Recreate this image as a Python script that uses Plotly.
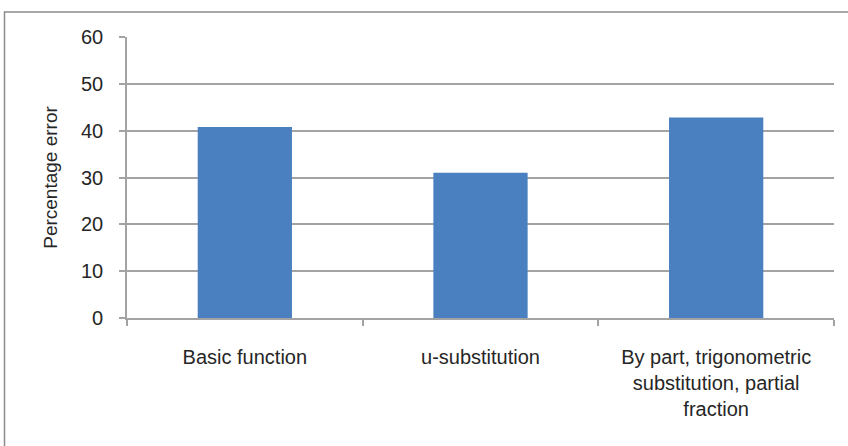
import plotly.graph_objects as go

# Percentage error by integration technique
categories = [
    "Basic function",
    "u-substitution",
    "By part, trigonometric<br>substitution, partial<br>fraction",
]
percentage_error = [40.8, 31.0, 42.8]
y_ticks = [0, 10, 20, 30, 40, 50, 60]

W, H = 848, 446
ML, MR, MT, MB = 127, 14, 37, 128

fig = go.Figure(
    go.Bar(
        x=categories,
        y=percentage_error,
        marker=dict(color="#4a80bf", line=dict(width=0)),
        width=0.4,
    )
)

grid = "#a3a3a3"
fig.update_layout(
    width=W,
    height=H,
    margin=dict(l=ML, r=MR, t=MT, b=MB, autoexpand=False),
    paper_bgcolor="white",
    plot_bgcolor="white",
    font=dict(family="Liberation Sans, Arial, sans-serif", color="#262626"),
    showlegend=False,
    bargap=0.6,
)

fig.update_yaxes(
    range=[0, 60],
    tickvals=y_ticks,
    showgrid=True,
    gridcolor=grid,
    gridwidth=1.6,
    zeroline=False,
    showline=True,
    linecolor=grid,
    linewidth=1.6,
    ticks="outside",
    ticklen=6,
    tickwidth=1.6,
    tickcolor=grid,
    ticklabelstandoff=12,
    tickfont=dict(size=20, color="#262626"),
    title=dict(text="Percentage error", font=dict(size=19, color="#262626"), standoff=18),
    automargin=False,
)

fig.update_xaxes(
    showline=True,
    linecolor=grid,
    linewidth=1.6,
    ticks="outside",
    tickson="boundaries",
    ticklen=6,
    tickwidth=1.6,
    tickcolor=grid,
    ticklabelstandoff=20,
    tickfont=dict(size=20, color="#262626"),
    tickangle=0,
    automargin=False,
)

# Outer chart border
pw = W - ML - MR
ph = H - MT - MB
fig.add_shape(
    type="rect",
    xref="paper",
    yref="paper",
    x0=(4.5 - ML) / pw,
    x1=(W + 2 - ML) / pw,
    y0=-(H + 2 - (H - MB)) / ph,
    y1=1 + (MT - 12) / ph,
    line=dict(color="#8c8c8c", width=1.5),
    fillcolor="rgba(0,0,0,0)",
    layer="below",
)

fig.write_html("out.html")
